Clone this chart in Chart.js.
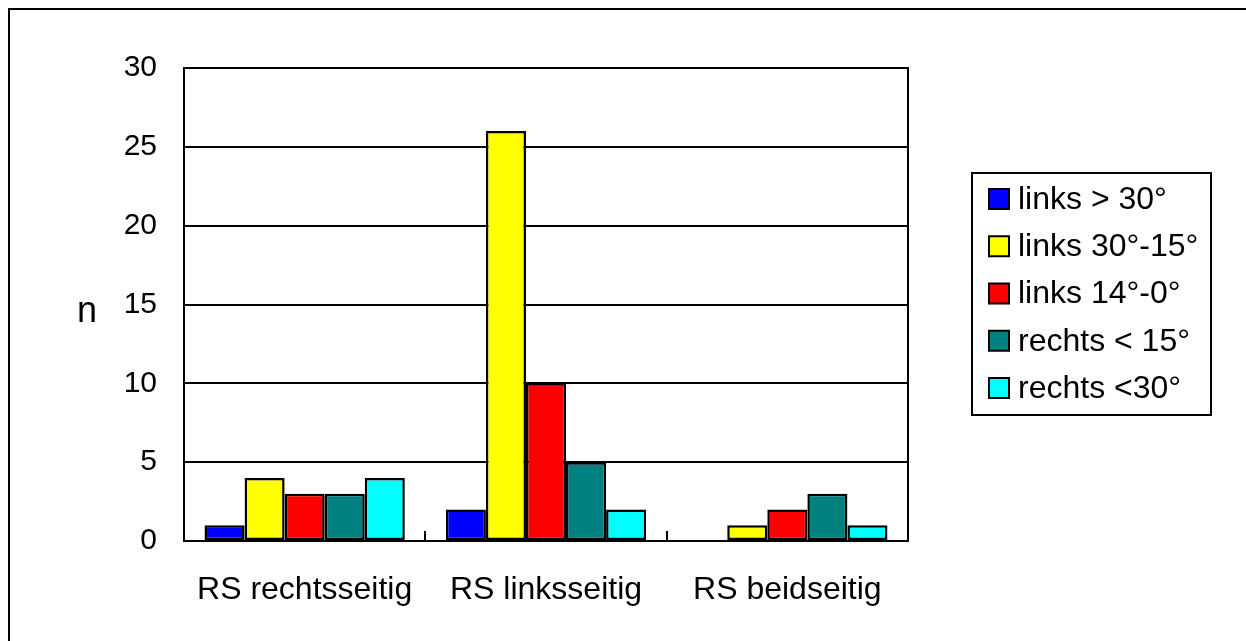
<!DOCTYPE html>
<html>
<head>
<meta charset="utf-8">
<script src="https://cdn.jsdelivr.net/npm/chart.js@4/dist/chart.umd.min.js"></script>
<style>
  html, body { margin: 0; padding: 0; background: #fff; }
  #wrap { width: 1246px; height: 641px; }
</style>
</head>
<body>
<div id="wrap"><canvas id="chart"></canvas></div>
<script>
const categories = ['RS rechtsseitig', 'RS linksseitig', 'RS beidseitig'];
const seriesNames = ['links > 30°', 'links 30°-15°', 'links 14°-0°', 'rechts < 15°', 'rechts <30°'];
const seriesColors = ['#0000ff', '#ffff00', '#ff0000', '#008080', '#00ffff'];
const linksOver30 = [1, 2, 0];
const links30to15 = [4, 26, 1];
const links14to0 = [3, 10, 2];
const rechtsUnder15 = [3, 5, 3];
const rechtsUnder30 = [4, 2, 1];
const yTicks = [0, 5, 10, 15, 20, 25, 30];
const yTitle = 'n';

const FONT = '"Liberation Sans", Arial, sans-serif';
const seriesValues = [linksOver30, links30to15, links14to0, rechtsUnder15, rechtsUnder30];

// frame, axis title, category ticks and the boxed legend
const decor = {
    id: 'decor',
    beforeDraw(chart) {
        const ctx = chart.ctx;
        ctx.save();
        ctx.fillStyle = '#fff';
        ctx.fillRect(0, 0, chart.width, chart.height);
        ctx.strokeStyle = '#000';
        ctx.lineWidth = 2;
        ctx.strokeRect(9, 9, 1400, 800);
        ctx.restore();
    },
    afterDraw(chart) {
        const ctx = chart.ctx;
        const a = chart.chartArea;
        const x = chart.scales.x;
        ctx.save();
        ctx.strokeStyle = '#000';
        ctx.lineWidth = 2;
        ctx.strokeRect(a.left, a.top, a.right - a.left, a.bottom - a.top);

        // category separators pointing up
        ctx.beginPath();
        for (let i = 0; i < categories.length - 1; i++) {
            const px = Math.round((x.getPixelForValue(i) + x.getPixelForValue(i + 1)) / 2);
            ctx.moveTo(px, a.bottom);
            ctx.lineTo(px, a.bottom - 10);
        }
        ctx.stroke();

        // y title
        ctx.fillStyle = '#000';
        ctx.font = '36px ' + FONT;
        ctx.textAlign = 'center';
        ctx.textBaseline = 'middle';
        ctx.fillText(yTitle, 87, 312);

        // legend
        const lx = 972, ly = 173, lw = 239, lh = 242;
        ctx.strokeRect(lx, ly, lw, lh);
        ctx.font = '32px ' + FONT;
        ctx.textAlign = 'left';
        chart.data.datasets.forEach((ds, i) => {
            const cy = 199 + i * 47.25;
            ctx.fillStyle = ds.backgroundColor;
            ctx.fillRect(989, cy - 10, 20, 20);
            ctx.strokeRect(989, cy - 10, 20, 20);
            ctx.fillStyle = '#000';
            ctx.fillText(ds.label, 1018, cy + 1);
        });
        ctx.restore();
    }
};

new Chart(document.getElementById('chart'), {
    type: 'bar',
    data: {
        labels: categories,
        datasets: seriesNames.map((name, i) => ({
            label: name,
            data: seriesValues[i],
            backgroundColor: seriesColors[i],
            borderColor: '#000',
            borderWidth: 2.5,
            borderSkipped: false
        }))
    },
    options: {
        responsive: true,
        maintainAspectRatio: false,
        animation: false,
        categoryPercentage: 0.83,
        barPercentage: 1,
        layout: { padding: { left: 20, top: 68, right: 338, bottom: 0 } },
        plugins: {
            legend: { display: false },
            tooltip: { enabled: false }
        },
        scales: {
            x: {
                grid: { display: false, drawTicks: false },
                border: { display: false },
                ticks: { color: '#000', font: { family: FONT, size: 32 }, padding: 30, maxRotation: 0 },
                afterFit(scale) { scale.height = 100; }
            },
            y: {
                min: 0,
                max: 30,
                afterBuildTicks(scale) { scale.ticks = yTicks.map(v => ({ value: v })); },
                grid: { color: '#000', lineWidth: 2, drawTicks: false },
                border: { display: false },
                ticks: { color: '#000', font: { family: FONT, size: 30 }, padding: 27 },
                afterFit(scale) { scale.width = 164; }
            }
        }
    },
    plugins: [decor]
});
</script>
</body>
</html>
